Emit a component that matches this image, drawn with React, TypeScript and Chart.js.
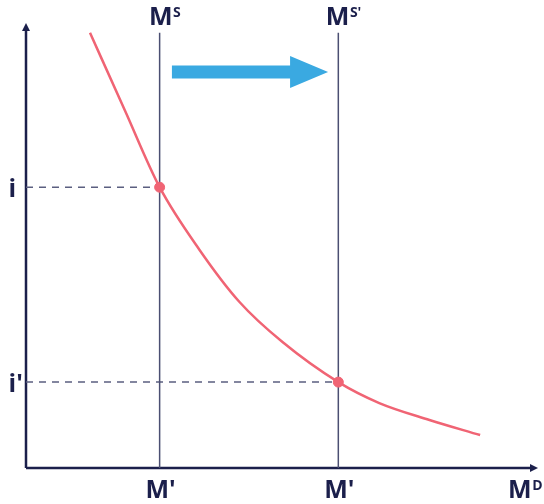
import React, { useEffect, useRef } from "react";
import { Chart, registerables } from "chart.js";

Chart.register(...registerables);

// Money demand curve (data units: x 0..100, y 0..100)
const curveX = [12.5, 19.3, 26.1, 33.9, 41.7, 50.1, 61.0, 69.0, 78.8, 88.7];
const curveY = [97.8, 80.4, 63.1, 49.0, 37.3, 28.3, 19.3, 14.6, 10.8, 7.4];
// Money supply (vertical lines) and equilibrium rates
const supplyX = [26.1, 61.0];
const supplyTop = 97.8;
const rateY = [63.1, 19.3];
// Labels
const supplyLabels: [string, string][] = [["M", "S"], ["M", "S'"]];
const quantityLabels = ["M'", "M'"];
const rateLabels = ["i", "i'"];
const demandLabel: [string, string] = ["M", "D"];
// Shift arrow (data units)
const arrowFromX = 28.5;
const arrowToX = 59.0;
const arrowY = 89.0;

const NAVY = "#1b1f4b";
const FONT = "'Open Sans', 'Noto Sans', sans-serif";

function drawSup(ctx: CanvasRenderingContext2D, base: string, sup: string, x: number, y: number, align: "center" | "right") {
  ctx.font = `bold 25px ${FONT}`;
  const wb = ctx.measureText(base).width;
  ctx.font = `bold 14px ${FONT}`;
  const ws = ctx.measureText(sup).width;
  const total = wb + ws;
  const left = align === "center" ? x - total / 2 : x - total;
  ctx.textAlign = "left";
  ctx.textBaseline = "alphabetic";
  ctx.font = `bold 25px ${FONT}`;
  ctx.fillText(base, left, y);
  ctx.font = `bold 14px ${FONT}`;
  ctx.fillText(sup, left + wb + 0.5, y - 8);
}

const decorPlugin = {
  id: "decor",
  beforeDatasetsDraw(chart: any) {
    const { ctx, chartArea, scales } = chart;
    const x0 = scales.x.getPixelForValue(0);
    const y0 = scales.y.getPixelForValue(0);
    ctx.save();
    ctx.strokeStyle = NAVY;
    ctx.fillStyle = NAVY;
    ctx.lineWidth = 2.5;
    ctx.beginPath();
    ctx.moveTo(x0, y0);
    ctx.lineTo(x0, chartArea.top + 5);
    ctx.moveTo(x0, y0);
    ctx.lineTo(chartArea.right - 5, y0);
    ctx.stroke();
    // arrowheads
    ctx.beginPath();
    ctx.moveTo(x0, chartArea.top);
    ctx.lineTo(x0 - 4, chartArea.top + 8);
    ctx.lineTo(x0 + 4, chartArea.top + 8);
    ctx.closePath();
    ctx.fill();
    ctx.beginPath();
    ctx.moveTo(chartArea.right, y0);
    ctx.lineTo(chartArea.right - 8, y0 - 4);
    ctx.lineTo(chartArea.right - 8, y0 + 4);
    ctx.closePath();
    ctx.fill();
    ctx.restore();
  },
  afterDraw(chart: any) {
    const { ctx, scales, chartArea } = chart;
    ctx.save();
    // shift arrow
    const ax1 = scales.x.getPixelForValue(arrowFromX);
    const ax2 = scales.x.getPixelForValue(arrowToX);
    const ay = scales.y.getPixelForValue(arrowY);
    const headLen = 38;
    ctx.fillStyle = "#3aa9e1";
    ctx.beginPath();
    ctx.moveTo(ax1, ay - 6.5);
    ctx.lineTo(ax2 - headLen, ay - 6.5);
    ctx.lineTo(ax2 - headLen, ay - 16);
    ctx.lineTo(ax2, ay);
    ctx.lineTo(ax2 - headLen, ay + 16);
    ctx.lineTo(ax2 - headLen, ay + 6.5);
    ctx.lineTo(ax1, ay + 6.5);
    ctx.closePath();
    ctx.fill();

    ctx.fillStyle = NAVY;
    // supply labels on top
    supplyX.forEach((v, i) => {
      const px = scales.x.getPixelForValue(v);
      drawSup(ctx, supplyLabels[i][0], supplyLabels[i][1], px + 5, 25, "center");
    });
    // quantity labels below
    ctx.font = `bold 25px ${FONT}`;
    ctx.textAlign = "center";
    ctx.textBaseline = "alphabetic";
    supplyX.forEach((v, i) => {
      const px = scales.x.getPixelForValue(v);
      ctx.fillText(quantityLabels[i], px + 1, 498);
    });
    // rate labels
    ctx.textAlign = "left";
    rateY.forEach((v, i) => {
      const py = scales.y.getPixelForValue(v);
      ctx.fillText(rateLabels[i], 8.5, py + 10);
    });
    // demand label
    drawSup(ctx, demandLabel[0], demandLabel[1], chartArea.right + 4, 498, "right");
    ctx.restore();
  },
};

export default function App() {
  const ref = useRef<HTMLCanvasElement>(null);
  useEffect(() => {
    if (!ref.current) return;
    const curve = curveX.map((x, i) => ({ x, y: curveY[i] }));
    const datasets: any[] = [];
    supplyX.forEach((sx) => {
      datasets.push({
        type: "line",
        data: [{ x: sx, y: 0 }, { x: sx, y: supplyTop }],
        borderColor: "#4b4f72",
        borderWidth: 1.5,
        pointRadius: 0,
        order: 3,
      });
    });
    supplyX.forEach((sx, i) => {
      datasets.push({
        type: "line",
        data: [{ x: 0, y: rateY[i] }, { x: sx, y: rateY[i] }],
        borderColor: "#5b5f80",
        borderWidth: 1.5,
        borderDash: [7, 6],
        pointRadius: 0,
        order: 3,
      });
    });
    datasets.push({
      type: "line",
      data: curve,
      borderColor: "#f06474",
      borderWidth: 2.5,
      pointRadius: 0,
      cubicInterpolationMode: "monotone",
      order: 2,
    });
    datasets.push({
      type: "scatter",
      data: supplyX.map((sx, i) => ({ x: sx, y: rateY[i] })),
      backgroundColor: "#f06474",
      borderColor: "#f06474",
      pointRadius: 5,
      order: 1,
    });
    const chart = new Chart(ref.current, {
      type: "scatter",
      data: { datasets },
      options: {
        animation: false,
        responsive: true,
        maintainAspectRatio: false,
        layout: { padding: { left: 26, right: 5, top: 23, bottom: 36 } },
        plugins: { legend: { display: false }, tooltip: { enabled: false } },
        scales: {
          x: { type: "linear", min: 0, max: 100, display: false },
          y: { type: "linear", min: 0, max: 100, display: false },
        },
        elements: { line: { tension: 0 } },
      },
      plugins: [decorPlugin],
    });
    return () => chart.destroy();
  }, []);
  return (
    <div style={{ position: "absolute", left: 0, top: 0, width: 544, height: 504, background: "#fff" }}>
      <canvas ref={ref} />
    </div>
  );
}
